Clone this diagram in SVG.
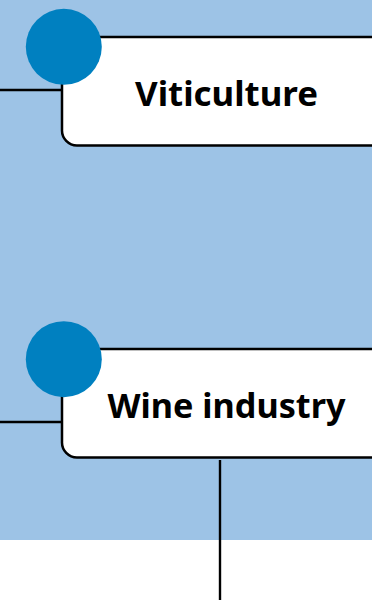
<svg xmlns="http://www.w3.org/2000/svg" width="372" height="600" viewBox="0 0 372 600">
<style>
.box{fill:#ffffff;stroke:#000000;stroke-width:2.5}
.dot{fill:#0080C0}
.lbl{font-family:"Noto Sans","Open Sans","DejaVu Sans",sans-serif;font-weight:bold;font-size:34px;fill:#000000;text-anchor:middle}
.con{stroke:#000000;stroke-width:2.4;fill:none}
</style>
<rect x="0" y="0" width="372" height="540" fill="#9DC3E6"/>
<g id="connectors">
<line class="con" x1="0" y1="90" x2="62" y2="90"/>
<line class="con" x1="0" y1="422" x2="62" y2="422"/>
<line class="con" x1="220" y1="460" x2="220" y2="600"/>
</g>
<g id="viticulture">
<path class="box" d="M380 37 H62 V130 A15 15 0 0 0 77 145.5 H380"/>
<circle class="dot" cx="63.8" cy="46.8" r="38"/>
<text class="lbl" x="226.5" y="106" textLength="183" lengthAdjust="spacingAndGlyphs">Viticulture</text>
</g>
<g id="wine-industry">
<path class="box" d="M380 349 H62 V442 A15 15 0 0 0 77 457.5 H380"/>
<circle class="dot" cx="63.8" cy="359.2" r="38"/>
<text class="lbl" x="226.5" y="418" textLength="238" lengthAdjust="spacingAndGlyphs">Wine industry</text>
</g>
</svg>
